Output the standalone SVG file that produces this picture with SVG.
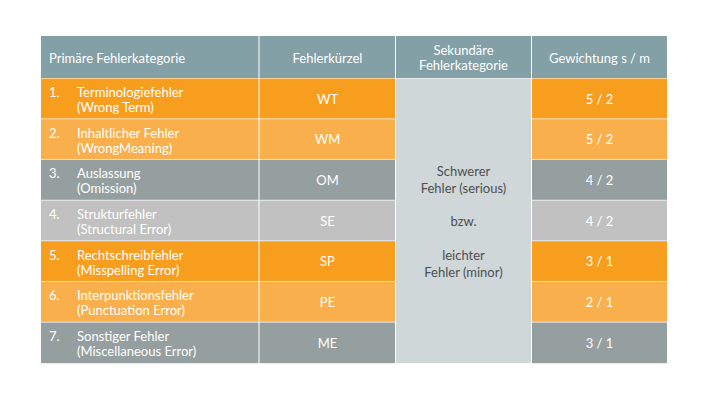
<svg xmlns="http://www.w3.org/2000/svg" width="710" height="400" viewBox="0 0 710 400">
<style>
text{font-family:Lato,"Open Sans","Liberation Sans",sans-serif;font-size:13px;fill:#ffffff}
.c{text-anchor:middle}
.d{fill:#4d4f50}
.hd{fill:#82a0a6}
.o1{fill:#f79e1f}
.o2{fill:#f9b04c}
.g1{fill:#969f9f}
.g2{fill:#c1c1c1}
.mid{fill:#cfd7d9}
</style>
<rect width="710" height="400" fill="#ffffff"/>
<g id="header">
<rect class="hd" x="41" y="36" width="217.5" height="42"/>
<rect class="hd" x="259.5" y="36" width="135.5" height="42"/>
<rect class="hd" x="396" y="36" width="135" height="42"/>
<rect class="hd" x="532" y="36" width="135" height="42"/>
<text x="49" y="63">Primäre Fehlerkategorie</text>
<text class="c" x="327.5" y="63">Fehlerkürzel</text>
<text class="c" x="463.5" y="55">Sekundäre</text>
<text class="c" x="463.5" y="69.5">Fehlerkategorie</text>
<text class="c" x="599.5" y="63">Gewichtung s / m</text>
</g>
<g id="secondary">
<rect class="mid" x="396" y="78.5" width="135" height="284.7"/>
<text class="c d" x="463.5" y="176">Schwerer</text>
<text class="c d" x="463.5" y="192.5">Fehler (serious)</text>
<text class="c d" x="463.5" y="226">bzw.</text>
<text class="c d" x="463.5" y="260">leichter</text>
<text class="c d" x="463.5" y="276.5">Fehler (minor)</text>
</g>
<g id="row1">
<rect class="o1" x="41" y="78.5" width="217.5" height="40"/>
<rect class="o1" x="259.5" y="78.5" width="135.5" height="40"/>
<rect class="o1" x="532" y="78.5" width="135" height="40"/>
<text x="49" y="97">1.</text>
<text x="77" y="97">Terminologiefehler</text>
<text x="77" y="112">(Wrong Term)</text>
<text class="c" x="327.5" y="103.5">WT</text>
<text class="c" x="599.5" y="103.5">5 / 2</text>
</g>
<g id="row2">
<rect class="o2" x="41" y="119.2" width="217.5" height="40"/>
<rect class="o2" x="259.5" y="119.2" width="135.5" height="40"/>
<rect class="o2" x="532" y="119.2" width="135" height="40"/>
<text x="49" y="137.7">2.</text>
<text x="77" y="137.7">Inhaltlicher Fehler</text>
<text x="77" y="152.7">(WrongMeaning)</text>
<text class="c" x="327.5" y="144.2">WM</text>
<text class="c" x="599.5" y="144.2">5 / 2</text>
</g>
<g id="row3">
<rect class="g1" x="41" y="159.8" width="217.5" height="40"/>
<rect class="g1" x="259.5" y="159.8" width="135.5" height="40"/>
<rect class="g1" x="532" y="159.8" width="135" height="40"/>
<text x="49" y="178.3">3.</text>
<text x="77" y="178.3">Auslassung</text>
<text x="77" y="193.3">(Omission)</text>
<text class="c" x="327.5" y="184.8">OM</text>
<text class="c" x="599.5" y="184.8">4 / 2</text>
</g>
<g id="row4">
<rect class="g2" x="41" y="200.5" width="217.5" height="40"/>
<rect class="g2" x="259.5" y="200.5" width="135.5" height="40"/>
<rect class="g2" x="532" y="200.5" width="135" height="40"/>
<text x="49" y="219">4.</text>
<text x="77" y="219">Strukturfehler</text>
<text x="77" y="234">(Structural Error)</text>
<text class="c" x="327.5" y="225.5">SE</text>
<text class="c" x="599.5" y="225.5">4 / 2</text>
</g>
<g id="row5">
<rect class="o1" x="41" y="241.2" width="217.5" height="40"/>
<rect class="o1" x="259.5" y="241.2" width="135.5" height="40"/>
<rect class="o1" x="532" y="241.2" width="135" height="40"/>
<text x="49" y="259.7">5.</text>
<text x="77" y="259.7">Rechtschreibfehler</text>
<text x="77" y="274.7">(Misspelling Error)</text>
<text class="c" x="327.5" y="266.2">SP</text>
<text class="c" x="599.5" y="266.2">3 / 1</text>
</g>
<g id="row6">
<rect class="o2" x="41" y="281.8" width="217.5" height="40"/>
<rect class="o2" x="259.5" y="281.8" width="135.5" height="40"/>
<rect class="o2" x="532" y="281.8" width="135" height="40"/>
<text x="49" y="300.3">6.</text>
<text x="77" y="300.3">Interpunktionsfehler</text>
<text x="77" y="315.3">(Punctuation Error)</text>
<text class="c" x="327.5" y="306.8">PE</text>
<text class="c" x="599.5" y="306.8">2 / 1</text>
</g>
<g id="row7">
<rect class="g1" x="41" y="322.5" width="217.5" height="40.7"/>
<rect class="g1" x="259.5" y="322.5" width="135.5" height="40.7"/>
<rect class="g1" x="532" y="322.5" width="135" height="40.7"/>
<text x="49" y="341">7.</text>
<text x="77" y="341">Sonstiger Fehler</text>
<text x="77" y="356">(Miscellaneous Error)</text>
<text class="c" x="327.5" y="347.5">ME</text>
<text class="c" x="599.5" y="347.5">3 / 1</text>
</g>
<g id="connectors"></g>
</svg>
